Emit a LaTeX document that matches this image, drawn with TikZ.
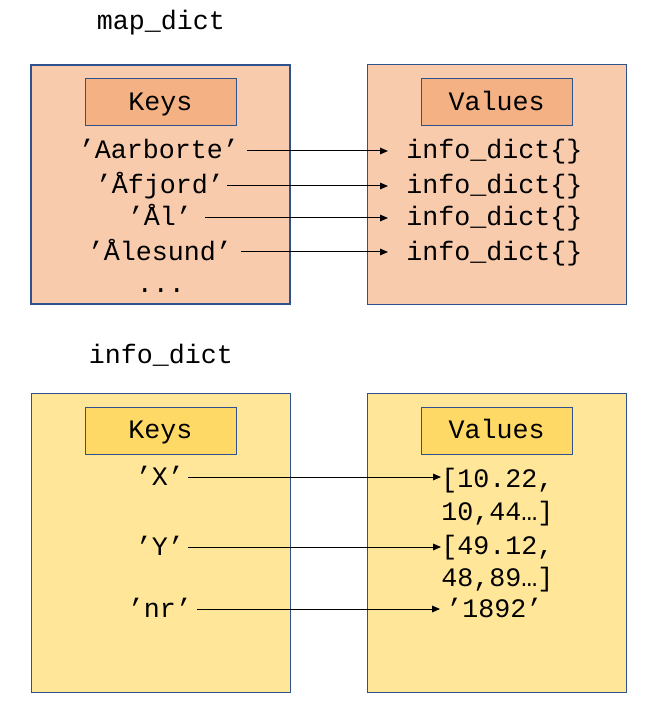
\documentclass[tikz,border=0pt]{standalone}
\usepackage{fontspec}
\newfontfamily\codefont{Liberation Mono}
\usepackage{tikz}
\usetikzlibrary{arrows.meta}
\definecolor{frame}{HTML}{2F528F}
\definecolor{mapfill}{HTML}{F8CBAD}
\definecolor{maphead}{HTML}{F4B183}
\definecolor{infofill}{HTML}{FFE699}
\definecolor{infohead}{HTML}{FFD966}
\tikzset{
  panel/.style={draw=frame, line width=0.75pt, minimum width=194.25pt, inner sep=0pt},
  head/.style={draw=frame, line width=0.75pt, minimum width=113.25pt, minimum height=35.25pt,
    font=\codefont\fontsize{20}{24}\selectfont, text height=12pt, text depth=0pt},
  txt/.style={font=\codefont\fontsize{20}{24}\selectfont, text height=12pt, text depth=0pt, inner xsep=0pt},
  val/.style={txt, anchor=west},
  link/.style={-{Triangle[length=6pt,width=5pt]}, line width=0.75pt}
}

\begin{document}
\begin{tikzpicture}[x=0.75pt, y=-0.75pt]
  \useasboundingbox (0,0) rectangle (650,723);

  % map_dict
  \node[txt] (maptitle) at (161,22) {map\_dict};
  \node[panel, fill=mapfill, line width=1.5pt, minimum height=179.25pt] (mapkeys) at (160.5,184.5) {};
  \node[panel, fill=mapfill, minimum height=179.25pt] (mapvals) at (496.5,184.5) {};
  \node[head, fill=maphead] (mapkh) at (160.5,102.5) {Keys};
  \node[head, fill=maphead] (mapvh) at (496.5,102.5) {Values};

  \node[txt] (k1) at (159,151) {’Aarborte’};
  \node[txt] (k2) at (160,186) {’Åfjord’};
  \node[txt] (k3) at (160,218) {’Ål’};
  \node[txt] (k4) at (160,252) {’Ålesund’};
  \node[txt] (kdots) at (161,284) {...};

  \node[val] (v1) at (406,151) {info\_dict\{\}};
  \node[val] (v2) at (406,186) {info\_dict\{\}};
  \node[val] (v3) at (406,218) {info\_dict\{\}};
  \node[val] (v4) at (406,252) {info\_dict\{\}};

  \draw[link, shorten <=6pt, shorten >=13.5pt] (k1.east) -- (k1.east -| v1.west);
  \draw[link, shorten <=2.25pt, shorten >=13.5pt] (k2.east) -- (k2.east -| v2.west);
  \draw[link, shorten <=9.75pt, shorten >=13.5pt] (k3.east) -- (k3.east -| v3.west);
  \draw[link, shorten <=6.75pt, shorten >=13.5pt] (k4.east) -- (k4.east -| v4.west);

  % info_dict
  \node[txt] (infotitle) at (161,355) {info\_dict};
  \node[panel, fill=infofill, minimum height=224.25pt] (infokeys) at (160.5,542.5) {};
  \node[panel, fill=infofill, minimum height=224.25pt] (infovals) at (496.5,542.5) {};
  \node[head, fill=infohead] (infokh) at (160.5,430.5) {Keys};
  \node[head, fill=infohead] (infovh) at (496.5,430.5) {Values};

  \node[txt] (kx) at (160,477) {’X’};
  \node[txt] (ky) at (160,547) {’Y’};
  \node[txt] (knr) at (160,609) {’nr’};

  \node[val] (vx) at (441,479) {[10.22,};
  \node[val] (vxb) at (441,512) {10,44…]};
  \node[val] (vy) at (441,546) {[49.12,};
  \node[val] (vyb) at (441,578) {48,89…]};
  \node[val] (vnr) at (446,609) {’1892’};

  \draw[link, shorten <=3pt] (kx.east) -- (kx.east -| vx.west);
  \draw[link, shorten <=3pt] (ky.east) -- (ky.east -| vy.west);
  \draw[link, shorten <=3.75pt, shorten >=4.5pt] (knr.east) -- (knr.east -| vnr.west);
\end{tikzpicture}
\end{document}
